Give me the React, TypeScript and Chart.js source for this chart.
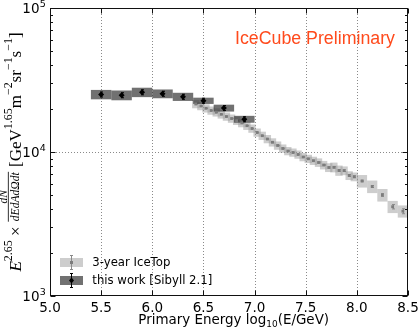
import React, { useEffect, useRef } from 'react';
import { Chart, registerables } from 'chart.js';

Chart.register(...registerables);

// ---------- data ----------
const xTickValues = [5.0, 5.5, 6.0, 6.5, 7.0, 7.5, 8.0, 8.5];
const yDecadeExponents = [3, 4, 5];

// this work [Sibyll 2.1]
const darkE = [5.5, 5.7, 5.9, 6.1, 6.3, 6.5, 6.7, 6.9];
const darkFlux = [25100, 24800, 26000, 25400, 24200, 22700, 20200, 16900];
const darkStat = [0.04, 0.04, 0.04, 0.04, 0.04, 0.04, 0.04, 0.04];
const darkSys = [0.075, 0.078, 0.075, 0.07, 0.065, 0.05, 0.055, 0.055];
const darkHalfBin = [0.1, 0.1, 0.1, 0.1, 0.1, 0.1, 0.1, 0.1];

// 3-year IceTop
const lightE = [
  6.425, 6.475, 6.525, 6.575, 6.625, 6.675, 6.725, 6.775, 6.825, 6.875, 6.925, 6.975,
  7.025, 7.075, 7.125, 7.175, 7.225, 7.275, 7.325, 7.375, 7.425, 7.475, 7.525, 7.575,
  7.625, 7.675, 7.725, 7.775, 7.825, 7.875, 7.925, 7.975, 8.05, 8.15, 8.25, 8.35, 8.45,
];
const lightFlux = [
  21540, 20870, 20120, 19420, 18870, 18270, 17640, 17080, 16500, 15900, 15230, 14560,
  13660, 12980, 12310, 11680, 11100, 10580, 10160, 9920, 9610, 9230, 8970, 8700,
  8455, 8120, 7805, 7830, 7440, 7420, 6870, 6730, 6290, 5760, 5030, 4170, 3880,
];
const lightStat = [
  0.004, 0.004, 0.004, 0.004, 0.004, 0.004, 0.004, 0.004, 0.004, 0.004, 0.004, 0.004,
  0.005, 0.005, 0.005, 0.005, 0.005, 0.005, 0.006, 0.006, 0.006, 0.007, 0.007, 0.008,
  0.008, 0.009, 0.01, 0.011, 0.012, 0.013, 0.014, 0.015, 0.012, 0.016, 0.022, 0.035, 0.04,
];
const lightSys = [
  0.066, 0.066, 0.066, 0.066, 0.066, 0.066, 0.066, 0.066, 0.066, 0.066, 0.066, 0.066,
  0.066, 0.066, 0.066, 0.066, 0.066, 0.066, 0.066, 0.066, 0.066, 0.066, 0.066, 0.066,
  0.068, 0.068, 0.07, 0.078, 0.082, 0.07, 0.07, 0.07, 0.1, 0.1, 0.1, 0.097, 0.097,
];
const lightHalfBin = lightE.map((e) => (e < 8 ? 0.036 : 0.05));

const titleText = 'IceCube Preliminary';
const xTitleMain = 'Primary Energy log';
const xTitleSub = '10';
const xTitleEnd = '(E/GeV)';
const legendLabels = ['3-year IceTop', 'this work [Sibyll 2.1]'];

// ---------- styles ----------
const LIGHT_BOX = 'rgba(150,150,150,0.48)';
const LIGHT_MARK = '#7c7c7c';
const DARK_BOX = 'rgba(45,45,45,0.68)';
const DARK_MARK = '#000000';
const SANS = '"DejaVu Sans", sans-serif';
const SERIF = '"Liberation Serif", "DejaVu Serif", serif';
const TITLE_FONT = '"Liberation Sans", Arial, sans-serif';

type Seg = { t?: string; font: string; dy: number; frac?: { num: string; den: string } };

function segWidth(ctx: CanvasRenderingContext2D, s: Seg) {
  ctx.font = s.font;
  if (s.frac) {
    return Math.max(ctx.measureText(s.frac.num).width, ctx.measureText(s.frac.den).width) + 2;
  }
  return ctx.measureText(s.t || '').width;
}

function yLabelSegs(base: number): Seg[] {
  const n = `${base}px ${SERIF}`;
  const it = `italic ${base}px ${SERIF}`;
  const sup = `${base * 0.7}px ${SERIF}`;
  const sd = -base * 0.48;
  return [
    { t: 'E', font: it, dy: 0 },
    { t: '2.65', font: sup, dy: sd },
    { t: ' \u00d7 ', font: n, dy: 0 },
    { font: `italic ${base * 0.68}px ${SERIF}`, dy: 0, frac: { num: 'dN', den: 'dEdAd\u03a9dt' } },
    { t: ' [GeV', font: n, dy: 0 },
    { t: '1.65', font: sup, dy: sd },
    { t: 'm', font: n, dy: 0 },
    { t: '\u22122', font: sup, dy: sd },
    { t: 'sr', font: n, dy: 0 },
    { t: '\u22121', font: sup, dy: sd },
    { t: 's', font: n, dy: 0 },
    { t: '\u22121', font: sup, dy: sd },
    { t: ']', font: n, dy: 0 },
  ];
}

const overlayPlugin = {
  id: 'overlay',
  beforeDatasetsDraw(chart: any) {
    const { ctx, chartArea: a, scales } = chart;
    const xs = scales.x;
    const ys = scales.y;
    ctx.save();
    ctx.beginPath();
    ctx.rect(a.left, a.top, a.right - a.left, a.bottom - a.top);
    ctx.clip();

    // dotted grid
    ctx.strokeStyle = '#8a8a8a';
    ctx.lineWidth = 1;
    ctx.setLineDash([1, 2]);
    xTickValues.slice(1, -1).forEach((v) => {
      const px = Math.round(xs.getPixelForValue(v)) + 0.5;
      ctx.beginPath();
      ctx.moveTo(px, a.top);
      ctx.lineTo(px, a.bottom);
      ctx.stroke();
    });
    yDecadeExponents.slice(1, -1).forEach((e) => {
      const py = Math.round(ys.getPixelForValue(Math.pow(10, e))) + 0.5;
      ctx.beginPath();
      ctx.moveTo(a.left, py);
      ctx.lineTo(a.right, py);
      ctx.stroke();
    });
    ctx.setLineDash([]);

    // light boxes
    ctx.fillStyle = LIGHT_BOX;
    lightE.forEach((e, i) => {
      const x0 = xs.getPixelForValue(e - lightHalfBin[i]);
      const x1 = xs.getPixelForValue(e + lightHalfBin[i]);
      const y0 = ys.getPixelForValue(lightFlux[i] * (1 + lightSys[i]));
      const y1 = ys.getPixelForValue(lightFlux[i] * (1 - lightSys[i]));
      ctx.fillRect(x0, y0, x1 - x0, y1 - y0);
    });
    // light error bars
    ctx.strokeStyle = '#8a8a8a';
    ctx.lineWidth = 1;
    lightE.forEach((e, i) => {
      const px = Math.round(xs.getPixelForValue(e)) + 0.5;
      const y0 = ys.getPixelForValue(lightFlux[i] * (1 + lightStat[i]));
      const y1 = ys.getPixelForValue(lightFlux[i] * (1 - lightStat[i]));
      ctx.beginPath();
      ctx.moveTo(px, y0);
      ctx.lineTo(px, y1);
      ctx.moveTo(px - 1.5, y0);
      ctx.lineTo(px + 1.5, y0);
      ctx.moveTo(px - 1.5, y1);
      ctx.lineTo(px + 1.5, y1);
      ctx.stroke();
    });

    // dark boxes
    ctx.fillStyle = DARK_BOX;
    darkE.forEach((e, i) => {
      const x0 = xs.getPixelForValue(e - darkHalfBin[i]);
      const x1 = xs.getPixelForValue(e + darkHalfBin[i]);
      const y0 = ys.getPixelForValue(darkFlux[i] * (1 + darkSys[i]));
      const y1 = ys.getPixelForValue(darkFlux[i] * (1 - darkSys[i]));
      ctx.fillRect(x0, y0, x1 - x0, y1 - y0);
    });
    // dark error bars
    ctx.strokeStyle = '#000';
    darkE.forEach((e, i) => {
      const px = Math.round(xs.getPixelForValue(e)) + 0.5;
      const y0 = ys.getPixelForValue(darkFlux[i] * (1 + darkStat[i]));
      const y1 = ys.getPixelForValue(darkFlux[i] * (1 - darkStat[i]));
      ctx.beginPath();
      ctx.moveTo(px, y0);
      ctx.lineTo(px, y1);
      ctx.moveTo(px - 1.5, y0);
      ctx.lineTo(px + 1.5, y0);
      ctx.moveTo(px - 1.5, y1);
      ctx.lineTo(px + 1.5, y1);
      ctx.stroke();
    });
    ctx.restore();
  },
  afterDraw(chart: any) {
    const { ctx, chartArea: a, scales } = chart;
    const xs = scales.x;
    const ys = scales.y;
    ctx.save();

    // frame
    ctx.strokeStyle = '#111';
    ctx.lineWidth = 1;
    const L = Math.round(a.left) + 0.5;
    const R = Math.round(a.right) - 0.5;
    const T = Math.round(a.top) + 0.5;
    const B = Math.round(a.bottom) - 0.5;
    ctx.strokeRect(L, T, R - L, B - T);

    // x ticks (inward, bottom & top)
    ctx.beginPath();
    xTickValues.forEach((v) => {
      const px = Math.round(xs.getPixelForValue(v)) + 0.5;
      ctx.moveTo(px, B);
      ctx.lineTo(px, B - 5);
      ctx.moveTo(px, T);
      ctx.lineTo(px, T + 5);
    });
    // y ticks (major + minor, left & right)
    yDecadeExponents.forEach((ex, k) => {
      const dec = Math.pow(10, ex);
      const py = Math.round(ys.getPixelForValue(dec)) + 0.5;
      ctx.moveTo(L, py);
      ctx.lineTo(L + 5, py);
      ctx.moveTo(R, py);
      ctx.lineTo(R - 5, py);
      if (k < yDecadeExponents.length - 1) {
        for (let m = 2; m <= 9; m++) {
          const pm = Math.round(ys.getPixelForValue(m * dec)) + 0.5;
          ctx.moveTo(L, pm);
          ctx.lineTo(L + 2.5, pm);
          ctx.moveTo(R, pm);
          ctx.lineTo(R - 2.5, pm);
        }
      }
    });
    ctx.stroke();

    // x tick labels
    ctx.fillStyle = '#000';
    ctx.font = `13.5px ${SANS}`;
    ctx.textAlign = 'center';
    ctx.textBaseline = 'alphabetic';
    xTickValues.forEach((v) => {
      ctx.fillText(v.toFixed(1), xs.getPixelForValue(v), a.bottom + 15.5);
    });

    // y tick labels 10^n
    yDecadeExponents.forEach((ex) => {
      const py = ys.getPixelForValue(Math.pow(10, ex));
      ctx.font = `13.5px ${SANS}`;
      ctx.textAlign = 'right';
      ctx.fillText('10', 39.5, py + 5);
      ctx.font = `9.5px ${SANS}`;
      ctx.textAlign = 'left';
      ctx.fillText(String(ex), 39.8, py - 1.5);
    });

    // x title with subscript
    {
      const base = 13.5;
      const subSize = 9;
      const measure = (b: number, s: number) => {
        ctx.font = `${b}px ${SANS}`;
        let w = ctx.measureText(xTitleMain).width + ctx.measureText(xTitleEnd).width;
        ctx.font = `${s}px ${SANS}`;
        w += ctx.measureText(xTitleSub).width;
        return w;
      };
      const target = 191;
      const k = target / measure(base, subSize);
      const b = base * k;
      const s = subSize * k;
      let x = 233.8 - target / 2;
      const yb = 324.3;
      ctx.textAlign = 'left';
      ctx.font = `${b}px ${SANS}`;
      ctx.fillText(xTitleMain, x, yb);
      x += ctx.measureText(xTitleMain).width;
      ctx.font = `${s}px ${SANS}`;
      ctx.fillText(xTitleSub, x, yb + 2.5);
      x += ctx.measureText(xTitleSub).width;
      ctx.font = `${b}px ${SANS}`;
      ctx.fillText(xTitleEnd, x, yb);
    }

    // y title (rotated, with superscripts and fraction)
    {
      let base = 12;
      let segs = yLabelSegs(base);
      let total = segs.reduce((acc, s) => acc + segWidth(ctx, s), 0);
      const target = 240;
      base = base * (target / total);
      segs = yLabelSegs(base);
      total = segs.reduce((acc, s) => acc + segWidth(ctx, s), 0);
      ctx.save();
      ctx.translate(20.5, 152);
      ctx.rotate(-Math.PI / 2);
      ctx.textAlign = 'left';
      let x = -total / 2;
      segs.forEach((s) => {
        const w = segWidth(ctx, s);
        ctx.font = s.font;
        if (s.frac) {
          const nw = ctx.measureText(s.frac.num).width;
          const dw = ctx.measureText(s.frac.den).width;
          ctx.fillText(s.frac.num, x + (w - nw) / 2, -base * 0.82);
          ctx.fillText(s.frac.den, x + (w - dw) / 2, -base * 0.08);
          ctx.fillRect(x + 0.5, -base * 0.74, w - 1, 0.8);
        } else {
          ctx.fillText(s.t, x, s.dy);
        }
        x += w;
      });
      ctx.restore();
    }

    // title
    {
      ctx.font = `18px ${TITLE_FONT}`;
      const w = ctx.measureText(titleText).width;
      const size = 18 * (160 / w);
      ctx.font = `${size}px ${TITLE_FONT}`;
      ctx.fillStyle = '#ff4a1c';
      ctx.textAlign = 'left';
      ctx.fillText(titleText, 235, 44);
    }

    // legend
    {
      const rows = [
        { y: 262.5, box: LIGHT_BOX, bar: '#8a8a8a', mark: LIGHT_MARK, diamond: false },
        { y: 280.5, box: DARK_BOX, bar: '#000', mark: DARK_MARK, diamond: true },
      ];
      ctx.font = `12px ${SANS}`;
      const lw = ctx.measureText(legendLabels[1]).width;
      const fs = 12 * (120 / lw);
      rows.forEach((r, i) => {
        ctx.fillStyle = r.box;
        ctx.fillRect(60, r.y - 4.5, 23, 9);
        const cx = 71.5;
        ctx.strokeStyle = r.bar;
        ctx.lineWidth = 1;
        ctx.beginPath();
        ctx.moveTo(cx, r.y - 7);
        ctx.lineTo(cx, r.y + 7);
        ctx.moveTo(cx - 1.5, r.y - 7);
        ctx.lineTo(cx + 1.5, r.y - 7);
        ctx.moveTo(cx - 1.5, r.y + 7);
        ctx.lineTo(cx + 1.5, r.y + 7);
        ctx.stroke();
        ctx.fillStyle = r.mark;
        if (r.diamond) {
          ctx.beginPath();
          ctx.moveTo(cx, r.y - 3);
          ctx.lineTo(cx + 2.5, r.y);
          ctx.lineTo(cx, r.y + 3);
          ctx.lineTo(cx - 2.5, r.y);
          ctx.closePath();
          ctx.fill();
        } else {
          ctx.fillRect(cx - 1.5, r.y - 1.5, 3, 3);
        }
        ctx.fillStyle = '#000';
        ctx.font = `${fs}px ${SANS}`;
        ctx.textAlign = 'left';
        ctx.textBaseline = 'middle';
        ctx.fillText(legendLabels[i], 92.3, r.y);
        ctx.textBaseline = 'alphabetic';
      });
    }

    ctx.restore();
  },
};

export default function App() {
  const ref = useRef<HTMLCanvasElement>(null);
  useEffect(() => {
    document.body.style.margin = '0';
    const canvas = ref.current!;
    const chart = new Chart(canvas, {
      type: 'scatter',
      data: {
        datasets: [
          {
            label: legendLabels[0],
            data: lightE.map((x, i) => ({ x, y: lightFlux[i] })),
            pointStyle: 'rect',
            pointRadius: 2,
            backgroundColor: LIGHT_MARK,
            borderWidth: 0,
          },
          {
            label: legendLabels[1],
            data: darkE.map((x, i) => ({ x, y: darkFlux[i] })),
            pointStyle: 'rectRot',
            pointRadius: 3,
            backgroundColor: DARK_MARK,
            borderWidth: 0,
          },
        ],
      },
      options: {
        responsive: false,
        animation: false,
        devicePixelRatio: 1,
        events: [],
        layout: { padding: { left: 50, right: 10, top: 8, bottom: 31 } },
        scales: {
          x: { type: 'linear', min: 5, max: 8.5, display: false },
          y: { type: 'logarithmic', min: 1e3, max: 1e5, display: false },
        },
        plugins: {
          legend: { display: false },
          tooltip: { enabled: false },
          title: { display: false },
        },
      },
      plugins: [overlayPlugin],
    } as any);
    return () => chart.destroy();
  }, []);
  return <canvas ref={ref} width={418} height={327} style={{ display: 'block' }} />;
}
